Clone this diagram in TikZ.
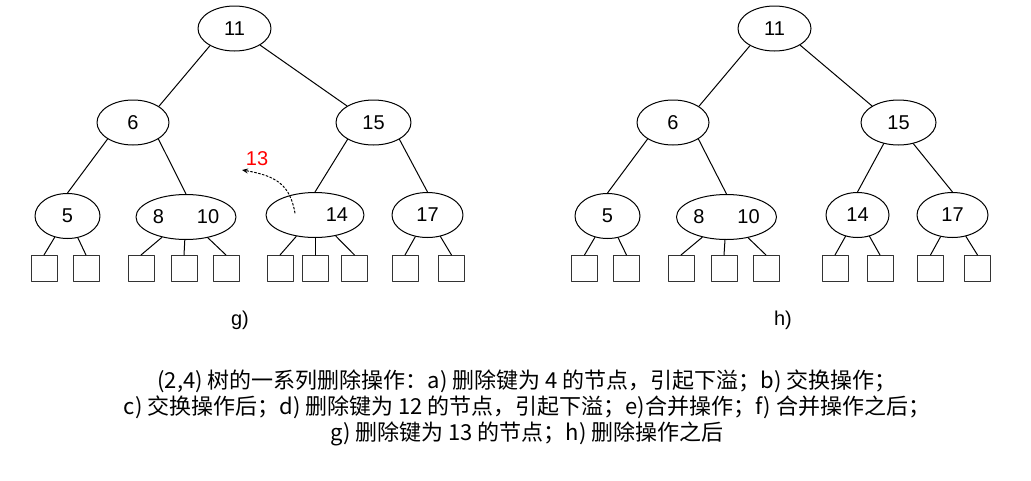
\documentclass[tikz,border=0pt]{standalone}
\usepackage{fontspec}
\setmainfont{Liberation Sans}
\newfontfamily\cjk{Noto Sans CJK SC}
\usetikzlibrary{shapes.geometric,arrows.meta}

\begin{document}
\begin{tikzpicture}[x=1pt, y=-1pt, line join=round, line cap=round,
  key/.style={ellipse, draw, line width=1pt, inner sep=0pt, minimum height=45pt, font=\fontsize{20}{22}\selectfont},
  leaf/.style={rectangle, draw=black!80, line width=1pt, inner sep=0pt, minimum size=26pt},
  edge/.style={line width=1pt}]
\useasboundingbox (0,0) rectangle (1031,480);
% g) tree
\node[key, minimum width=73pt] (gr) at (234.5,28.5) {11};
\node[key, minimum width=72pt] (g6) at (133,122.5) {6};
\node[key, minimum width=75pt] (g15) at (373.5,122.5) {15};
\node[key, minimum width=65pt] (g5) at (67.5,216) {5};
\node[key, minimum width=100pt] (g810) at (186,217) {8\hspace{33pt}10};
\node[key, minimum width=98pt] (g14) at (315,215) {\hspace*{44pt}14};
\node[key, minimum width=71pt] (g17) at (427.5,215) {17};
\draw[edge] (gr.-145) -- (g6.32);
\draw[edge] (gr.-33) -- (g15.148);
\draw[edge] (g6.-147) -- (g5.north);
\draw[edge] (g6.-33) -- (g810.north);
\draw[edge] (g15.-147) -- (g14.north);
\draw[edge] (g15.-33) -- (g17.north);
\node[leaf] (g5a) at (44,268.5) {};
\node[leaf] (g5b) at (86,268.5) {};
\node[leaf] (g810a) at (141,268.5) {};
\node[leaf] (g810b) at (184,268.5) {};
\node[leaf] (g810c) at (226,268.5) {};
\node[leaf] (g14a) at (280,268.5) {};
\node[leaf] (g14b) at (315,268.5) {};
\node[leaf] (g14c) at (354.5,268.5) {};
\node[leaf] (g17a) at (405,268.5) {};
\node[leaf] (g17b) at (451.5,268.5) {};
\draw[edge] (g5) -- (g5a.north);
\draw[edge] (g5) -- (g5b.north);
\draw[edge] (g810) -- (g810a.north);
\draw[edge] (g810) -- (g810b.north);
\draw[edge] (g810) -- (g810c.north);
\draw[edge] (g14) -- (g14a.north);
\draw[edge] (g14) -- (g14b.north);
\draw[edge] (g14) -- (g14c.north);
\draw[edge] (g17) -- (g17a.north);
\draw[edge] (g17) -- (g17b.north);
% key 13 leaves node 14
\coordinate (mvfrom) at (295,213);
\coordinate (mvto) at (242,170);
\draw[line width=1pt, dash pattern=on 2pt off 2pt, -{Stealth[length=6pt,width=5pt]}] (mvfrom) .. controls (290,186) and (278,176) .. (mvto);
\node[text=red, font=\fontsize{20}{22}\selectfont] (k13) at (257,159) {13};
\node[font=\fontsize{20}{22}\selectfont] (glabel) at (240,320) {g)};
% h) tree
\node[key, minimum width=73pt] (hr) at (774.5,28.5) {11};
\node[key, minimum width=72pt] (h6) at (673,122.5) {6};
\node[key, minimum width=75pt] (h15) at (898.5,122.5) {15};
\node[key, minimum width=65pt] (h5) at (607.5,216) {5};
\node[key, minimum width=100pt] (h810) at (726.5,217) {8\hspace{33pt}10};
\node[key, minimum width=63pt] (h14) at (857.5,215) {14};
\node[key, minimum width=71pt] (h17) at (952.5,215) {17};
\draw[edge] (hr.-145) -- (h6.32);
\draw[edge] (hr.-33) -- (h15.148);
\draw[edge] (h6.-147) -- (h5.north);
\draw[edge] (h6.-33) -- (h810.north);
\draw[edge] (h15.-125) -- (h14.north);
\draw[edge] (h15.-55) -- (h17.north);
\node[leaf] (h5a) at (584.5,268.5) {};
\node[leaf] (h5b) at (626.5,268.5) {};
\node[leaf] (h810a) at (681,268.5) {};
\node[leaf] (h810b) at (724,268.5) {};
\node[leaf] (h810c) at (766,268.5) {};
\node[leaf] (h14a) at (835,268.5) {};
\node[leaf] (h14b) at (880,268.5) {};
\node[leaf] (h17a) at (930.5,268.5) {};
\node[leaf] (h17b) at (977.5,268.5) {};
\draw[edge] (h5) -- (h5a.north);
\draw[edge] (h5) -- (h5b.north);
\draw[edge] (h810) -- (h810a.north);
\draw[edge] (h810) -- (h810b.north);
\draw[edge] (h810) -- (h810c.north);
\draw[edge] (h14) -- (h14a.north);
\draw[edge] (h14) -- (h14b.north);
\draw[edge] (h17) -- (h17a.north);
\draw[edge] (h17) -- (h17b.north);
\node[font=\fontsize{20}{22}\selectfont] (hlabel) at (783,320) {h)};
% caption
\node[align=center, font=\cjk\fontsize{22}{26}\selectfont] (caption) at (527,408)
  {(2,4) 树的一系列删除操作：a) 删除键为 4 的节点，引起下溢；b) 交换操作；\\
   c) 交换操作后；d) 删除键为 12 的节点，引起下溢；e)合并操作；f) 合并操作之后；\\
   g) 删除键为 13 的节点；h) 删除操作之后};
\end{tikzpicture}
\end{document}
